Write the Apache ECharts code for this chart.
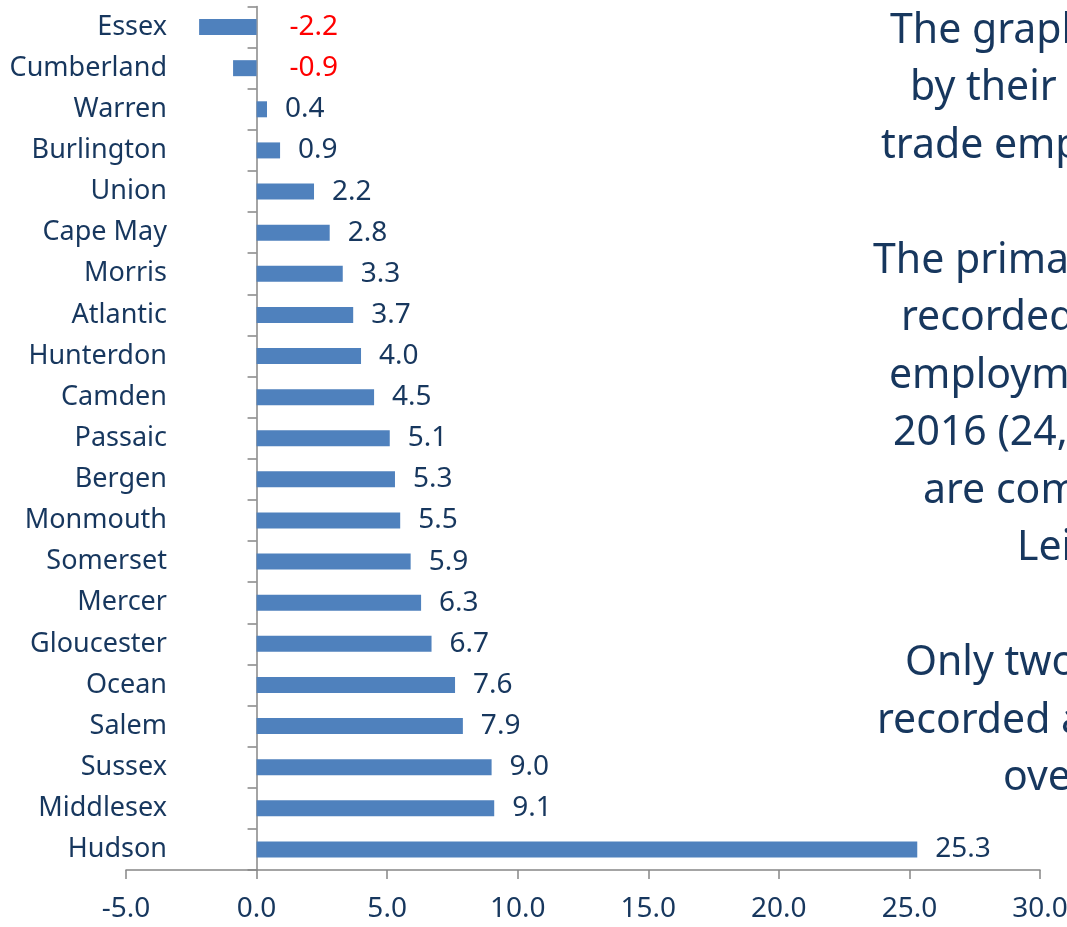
<!DOCTYPE html>
<html>
<head>
<meta charset="utf-8">
<script src="https://cdn.jsdelivr.net/npm/echarts@6/dist/echarts.min.js"></script>
<style>
  html, body { margin: 0; padding: 0; background: #fff; }
  #chart { width: 1067px; height: 927px; }
</style>
</head>
<body>
<div id="chart"></div>
<script>
var counties = ['Essex', 'Cumberland', 'Warren', 'Burlington', 'Union', 'Cape May', 'Morris',
	'Atlantic', 'Hunterdon', 'Camden', 'Passaic', 'Bergen', 'Monmouth', 'Somerset', 'Mercer',
	'Gloucester', 'Ocean', 'Salem', 'Sussex', 'Middlesex', 'Hudson'];
var changes = [-2.2, -0.9, 0.4, 0.9, 2.2, 2.8, 3.3, 3.7, 4.0, 4.5, 5.1, 5.3, 5.5, 5.9, 6.3,
	6.7, 7.6, 7.9, 9.0, 9.1, 25.3];
var noteLines = ['The graph', 'by their', 'trade emp', '', 'The prima', 'recorded', 'employm',
	'2016 (24,', 'are com', 'Lei', '', 'Only two', 'recorded a', 'ove'];
var noteStarts = [890, 910, 881, 0, 873, 901, 889, 893, 923, 1017, 0, 905, 877, 1003];

var navy = '#17375E';
var font = 'Noto Sans';

var barData = changes.map(function(v) {
	if (v < 0) {
		// excel put the negative labels to the right of the zero line, in red
		return { value: v, label: { color: '#FF0000', distance: 33 } };
	}
	return v;
});

var notes = [];
noteLines.forEach(function(t, i) {
	if (!t) return;
	notes.push({
		type: 'text',
		x: noteStarts[i],
		y: 43 + 57.5 * i - 12,
		style: {
			text: t,
			fill: navy,
			font: '41px "Noto Sans"',
			textVerticalAlign: 'middle'
		}
	});
});

var option = {
	animation: false,
	backgroundColor: '#fff',
	grid: {
		left: 126,
		right: 27,
		top: 6.5,
		bottom: 57,
		containLabel: false,
		outerBoundsMode: 'none'
	},
	xAxis: {
		type: 'value',
		min: -5,
		max: 30,
		interval: 5,
		splitLine: { show: false },
		axisLine: { show: true, lineStyle: { color: '#868686', width: 1.5 } },
		axisTick: { show: true, length: 9, lineStyle: { color: '#868686', width: 1.5 } },
		axisLabel: {
			margin: 25,
			fontSize: 28,
			fontFamily: font,
			color: navy,
			formatter: function(v) { return v.toFixed(1); }
		}
	},
	yAxis: {
		type: 'category',
		inverse: true,
		data: counties,
		axisLine: { show: true, onZero: true, lineStyle: { color: '#868686', width: 1.5 } },
		axisTick: { show: true, length: 9, lineStyle: { color: '#868686', width: 1.5 } },
		axisLabel: {
			// labels stay at the grid edge, not the zero line
			margin: -41,
			fontSize: 27,
			fontFamily: font,
			color: navy
		}
	},
	series: [{
		type: 'bar',
		data: barData,
		barWidth: 16,
		itemStyle: { color: '#4F81BD' },
		label: {
			show: true,
			position: 'right',
			distance: 18,
			fontSize: 28,
			fontFamily: font,
			color: navy,
			formatter: function(p) { return p.value.toFixed(1); }
		}
	}],
	graphic: notes
};

var chart = echarts.init(document.getElementById('chart'));
chart.setOption(option);
</script>
</body>
</html>
